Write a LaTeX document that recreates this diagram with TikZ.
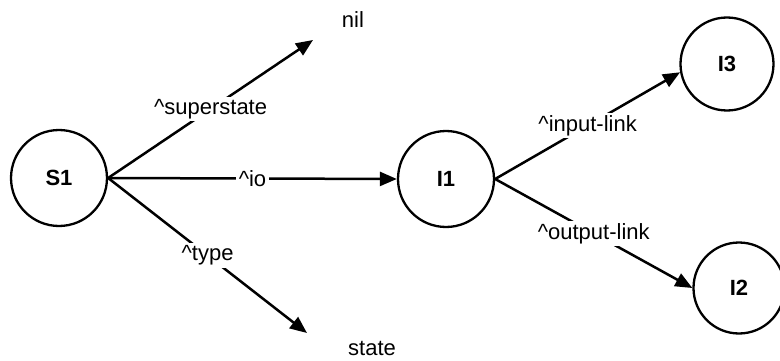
\documentclass[tikz,border=0pt]{standalone}
\usepackage{fontspec}
\setmainfont{Liberation Sans}
\usetikzlibrary{arrows.meta}
\begin{document}
\begin{tikzpicture}[x=1pt,y=-1pt,
  every node/.style={font=\fontsize{22}{24}\selectfont},
  state/.style={circle,draw,line width=2.3pt,minimum size=96pt,inner sep=0pt,font=\fontsize{22}{24}\selectfont\bfseries},
  plain/.style={inner sep=0pt},
  edge/.style={line width=2.5pt,-{Triangle[length=17pt,width=14pt]}},
  lbl/.style={fill=white,inner sep=2.5pt,midway}]
\useasboundingbox (0,0) rectangle (780,361);
\node[state] (S1) at (59,178) {S1};
\node[state] (I1) at (446,179) {I1};
\node[state,minimum size=93pt] (I3) at (727,64) {I3};
\node[state,minimum size=91pt] (I2) at (739,288) {I2};
\node[plain] (nil) at (353,20) {nil};
\node[plain] (st) at (372,348) {state};
\coordinate (nilTip) at (313,40);
\coordinate (stTip) at (307,333);
\draw[edge] (S1.east) -- (nilTip) node[lbl] {\^{}superstate};
\draw[edge] (S1.east) -- (stTip) node[lbl] {\^{}type};
\draw[edge] (S1.east) -- (I1.west) node[lbl] {\^{}io};
\draw[edge] (I1.east) -- (I3.190) node[lbl] {\^{}input-link};
\draw[edge] (I1.east) -- (I2.west) node[lbl] {\^{}output-link};
\end{tikzpicture}
\end{document}
